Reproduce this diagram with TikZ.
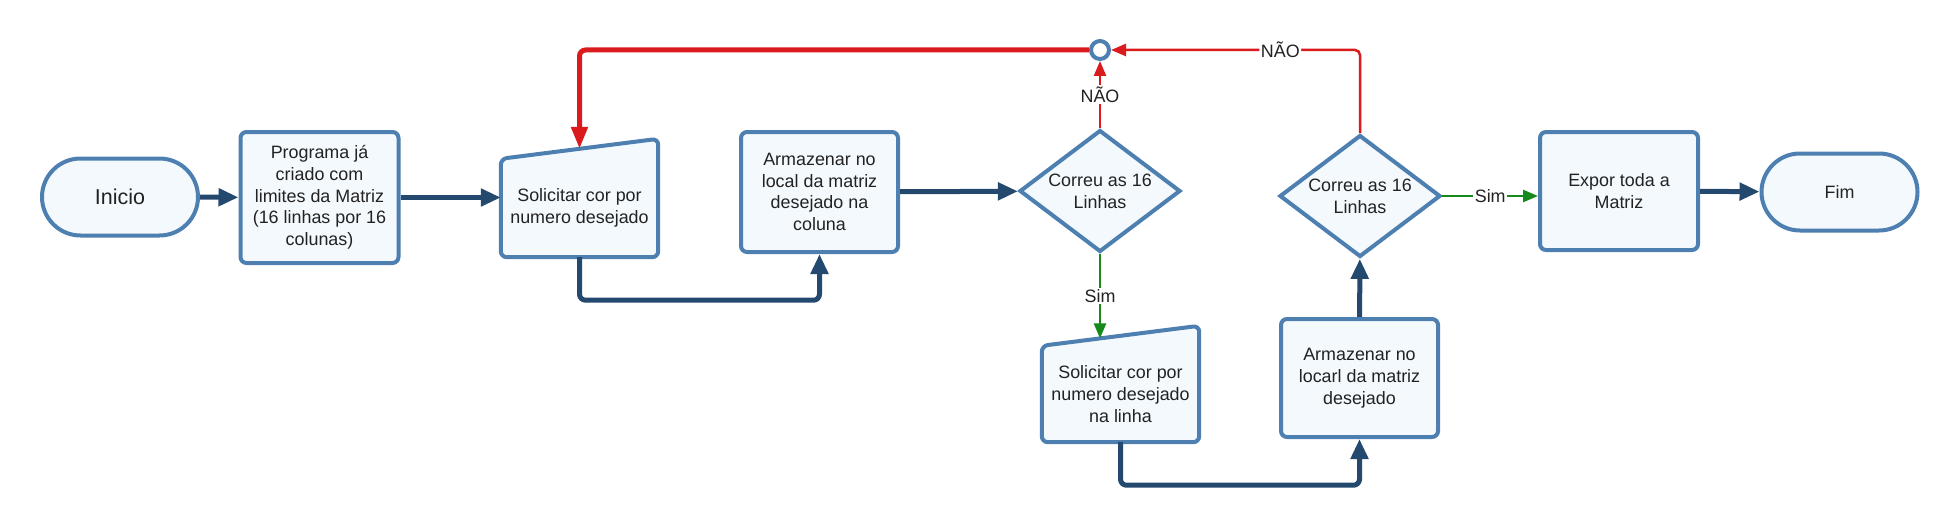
\documentclass[tikz,border=0pt]{standalone}
\usepackage{fontspec}
\setmainfont{Liberation Sans}
\usetikzlibrary{shapes.geometric,shapes.misc,arrows.meta,backgrounds}
\definecolor{boxline}{HTML}{4D7FB0}
\definecolor{boxfill}{HTML}{F4F9FD}
\definecolor{flow}{HTML}{24496E}
\definecolor{nao}{HTML}{DA1A1D}
\definecolor{sim}{HTML}{158A1A}
\definecolor{ink}{HTML}{222222}
\begin{document}
\begin{tikzpicture}[x=1pt,y=-1pt,font=\fontsize{17.9}{21.7}\selectfont,text=ink,
  box/.style={rectangle,draw=boxline,fill=boxfill,line width=4pt,rounded corners=6pt,align=center,inner sep=0pt},
  term/.style={rounded rectangle,draw=boxline,fill=boxfill,line width=4pt,inner sep=0pt,minimum width=156pt,minimum height=77pt},
  decide/.style={diamond,draw=boxline,fill=boxfill,line width=4pt,inner sep=2.6pt,aspect=1.32,align=center},
  manual/.style={rectangle,inner sep=0pt,align=center},
  manual line/.style={draw=boxline,fill=boxfill,line width=4pt,rounded corners=6pt},
  joint/.style={circle,draw=boxline,fill=white,line width=4pt,inner sep=0pt,minimum size=18pt},
  lbl/.style={fill=white,inner sep=1.5pt},
  thick flow/.style={line width=5pt,draw=flow,rounded corners=6pt,-{Triangle[length=20pt,width=17pt]}},
  thick nao/.style={line width=5pt,draw=nao,rounded corners=6pt,-{Triangle[length=22pt,width=16pt]}},
  thin nao/.style={line width=2.5pt,draw=nao,rounded corners=5pt,-{Triangle[length=15pt,width=12pt]}},
  thin sim/.style={line width=2.5pt,draw=sim,-{Triangle[length=15pt,width=12pt]}}]
  \useasboundingbox (0,0) rectangle (1960,527);
  \node (0) [term,font=\fontsize{21.5}{25}\selectfont] at (120,197) {Inicio};
  \node (1) [box,minimum width=158pt,minimum height=131pt] at (319.5,197.5) {Programa já\\criado com\\limites da Matriz\\(16 linhas por 16\\colunas)};
  \node (2) [manual,minimum width=157pt,minimum height=98pt] at (579.5,208) {Solicitar cor por\\numero desejado};
  \node (3) [box,minimum width=157pt,minimum height=120pt] at (819.5,192) {Armazenar no\\local da matriz\\desejado na\\coluna};
  \node (4) [decide,minimum width=154pt,minimum height=117pt] at (1100,191) {Correu as 16\\Linhas};
  \node (5) [joint] at (1100,50) {};
  \node (6) [manual,minimum width=157pt,minimum height=96pt] at (1120.5,394) {Solicitar cor por\\numero desejado\\na linha};
  \node (7) [box,minimum width=157pt,minimum height=118pt] at (1359.5,378) {Armazenar no\\locarl da matriz\\desejado};
  \node (8) [decide,minimum width=154pt,minimum height=117pt] at (1360,196) {Correu as 16\\Linhas};
  \node (9) [box,minimum width=158pt,minimum height=118pt] at (1619,191) {Expor toda a\\Matriz};
  \node (10) [term] at (1839.5,192) {Fim};
  \begin{scope}[on background layer]
    \draw[manual line] (2.south west) -- (2.north west) -- ([yshift=20pt]2.north east) -- (2.south east) -- cycle;
    \draw[manual line] (6.south west) -- (6.north west) -- ([yshift=20pt]6.north east) -- (6.south east) -- cycle;
  \end{scope}
  \draw[thick flow] (0) -- (1);
  \draw[thick flow] (1.east) -- (1.east -| 2.west);
  \draw[thick flow] (2.south) -- ++(0,43) -| (3.south);
  \draw[thick flow] (3) -- (4);
  \draw[thin nao] (4.north) -- node[lbl]{NÃO} (5.south);
  \draw[thin nao] (8.north) |- node[lbl,pos=0.66]{NÃO} (5.east);
  \draw[thick nao] (5.west) -| ([yshift=10pt]2.north);
  \draw[thin sim] (4.south) -- node[lbl]{Sim} ([xshift=-20.5pt,yshift=7.4pt]6.north);
  \draw[thick flow] (6.south) -- ++(0,43) -| (7.south);
  \draw[thick flow] (7) -- (8);
  \draw[thin sim] (8.east) -- node[lbl]{Sim} (8.east -| 9.west);
  \draw[thick flow] (9) -- (10);
\end{tikzpicture}
\end{document}
